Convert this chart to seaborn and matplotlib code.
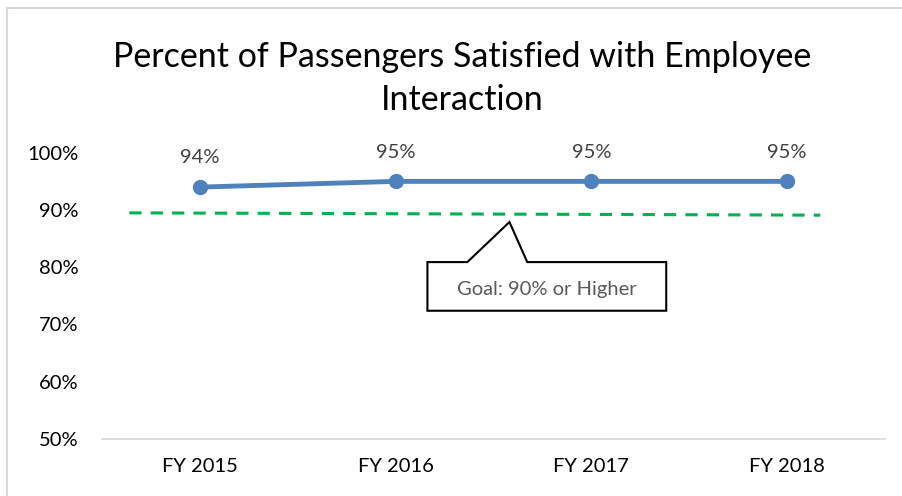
import matplotlib
matplotlib.use("Agg")
import matplotlib.pyplot as plt
from matplotlib.patches import Polygon, Rectangle
import seaborn as sns
import pandas as pd

sns.set_theme(style="white")
plt.rcParams['font.family'] = ['Lato', 'DejaVu Sans']

# data
years = ["FY 2015", "FY 2016", "FY 2017", "FY 2018"]
satisfied = [94, 95, 95, 95]
goal_x = [-0.36, 3.17]
goal_pct = [89.5, 89.1]
y_ticks = [50, 60, 70, 80, 90, 100]

df = pd.DataFrame({"pos": range(len(years)), "pct": satisfied})

fig = plt.figure(figsize=(9.02, 4.96), dpi=100)
ax = fig.add_axes([0.113, 0.115, 0.868, 0.577])

# chart-area frame (Excel style)
fig.patches.append(Rectangle((7 / 902, -0.1), 1.2, (1 - 8 / 496) + 0.1,
                             transform=fig.transFigure, fill=False,
                             edgecolor="#D9D9D9", linewidth=1.5))

sns.lineplot(data=df, x="pos", y="pct", ax=ax, color="#4F81BD", linewidth=3.5,
             marker="o", markersize=11, markeredgewidth=0, zorder=3)

ax.plot(goal_x, goal_pct, color="#00B050", linewidth=2.2, linestyle=(0, (4, 3)), zorder=2)

for x, v in zip(df["pos"], df["pct"]):
    ax.annotate(f"{v}%", (x, v), xytext=(0, 21), textcoords="offset points",
                ha="center", va="center", fontsize=14.5, color="#404040")

# callout
bx0, bx1, by0, by1 = 1.163, 2.383, 72.4, 80.9
callout = Polygon([(bx0, by0), (bx0, by1), (1.367, by1), (1.582, 87.9), (1.673, by1),
                   (bx1, by1), (bx1, by0)], closed=True, facecolor="white",
                  edgecolor="black", linewidth=1.5, zorder=4)
ax.add_patch(callout)
ax.text((bx0 + bx1) / 2, (by0 + by1) / 2 - 0.5, "Goal: 90% or Higher", ha="center",
        va="center", fontsize=14.5, color="#595959", zorder=5)

ax.set_xlim(-0.5, 3.5)
ax.set_ylim(50, 100)
ax.set_xticks(range(len(years)))
ax.set_xticklabels(years)
ax.set_yticks(y_ticks)
ax.set_yticklabels([f"{t}%" for t in y_ticks])
ax.tick_params(axis="both", length=0, labelsize=14.5, colors="black")
ax.tick_params(axis="y", pad=17)
ax.tick_params(axis="x", pad=14)
ax.set_xlabel("")
ax.set_ylabel("")
for s in ["top", "right", "left"]:
    ax.spines[s].set_visible(False)
ax.spines["bottom"].set_color("#D9D9D9")
ax.spines["bottom"].set_linewidth(1.2)
ax.grid(False)

fig.text(0.512, 1 - 57 / 496, "Percent of Passengers Satisfied with Employee",
         ha="center", va="center", fontsize=24.5, color="black")
fig.text(0.512, 1 - 100 / 496, "Interaction", ha="center", va="center",
         fontsize=24.5, color="black")

fig.savefig("out.png", dpi=100)
